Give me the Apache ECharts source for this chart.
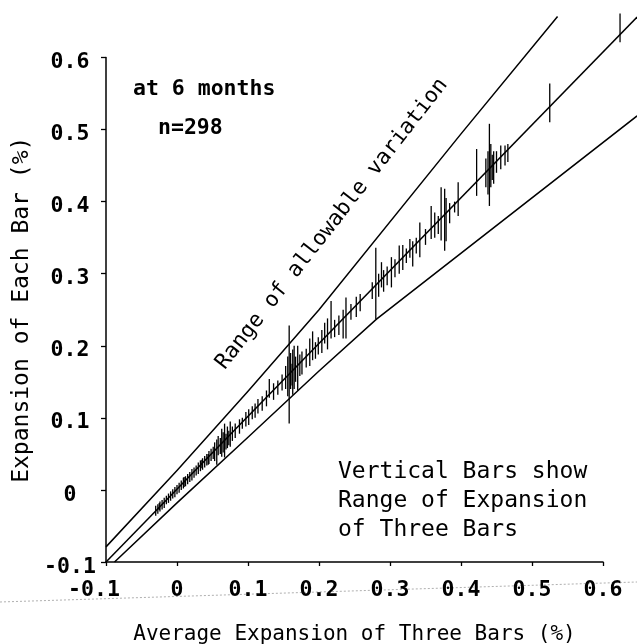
<!DOCTYPE html>
<html>
<head>
<meta charset="utf-8">
<script src="https://cdn.jsdelivr.net/npm/echarts@6/dist/echarts.min.js"></script>
<style>
html,body{margin:0;padding:0;background:#fff;}
#c{width:637px;height:644px;}
</style>
</head>
<body>
<div id="c"></div>
<script>
// ---- data ----
const xTicks = [-0.1, 0, 0.1, 0.2, 0.3, 0.4, 0.5, 0.6];
const yTicks = [-0.1, 0, 0.1, 0.2, 0.3, 0.4, 0.5, 0.6];

// boundary lines of allowable variation and centre line
const upperX = [-0.1, 0.0, 0.1, 0.2, 0.4, 0.536];
const upperY = [-0.079, 0.027, 0.137, 0.25, 0.494, 0.657];
const centerX = [-0.1, 0.648];
const centerY = [-0.1, 0.656];
const lowerX = [-0.088, 0.0, 0.1, 0.2, 0.281, 0.648];
const lowerY = [-0.1, -0.018, 0.073, 0.165, 0.237, 0.519];

// vertical bars: average expansion, min and max of the three bars
const barX = [
 -0.030,-0.027,-0.025,-0.024,-0.021,-0.018,-0.015,-0.012,-0.009,-0.006,-0.003,0.000,0.003,0.006,0.009,0.010,0.012,0.015,0.018,0.021,0.024,0.027,0.030,0.033,0.035,0.036,0.039,0.042,0.044,0.045,0.048,0.051,
 0.053,0.056,0.058,0.061,0.063,0.065,0.067,0.069,0.071,0.073,0.075,0.078,
 0.082,0.088,0.092,0.097,0.101,0.106,0.110,0.114,0.120,0.126,0.130,0.136,0.142,0.148,
 0.153,0.156,0.158,0.160,0.162,0.163,0.165,0.167,0.170,0.173,0.176,
 0.182,0.187,0.191,0.195,0.199,0.204,0.208,0.212,0.217,0.222,0.228,0.234,0.238,0.245,0.2525,0.258,
 0.275,0.280,0.284,0.288,0.291,0.296,0.302,0.307,0.313,0.318,0.323,0.328,0.332,0.337,0.342,0.350,0.358,0.363,0.368,0.372,0.377,0.379,0.384,0.391,0.396,
 0.422,0.435,0.438,0.440,0.442,0.444,0.446,0.450,0.456,0.462,0.466,
 0.525,0.624
];
const barLow = [
 -0.036,-0.033,-0.028,-0.030,-0.027,-0.025,-0.020,-0.018,-0.015,-0.012,-0.010,-0.006,-0.004,0.000,0.002,0.004,0.005,0.008,0.011,0.013,0.017,0.020,0.022,0.026,0.030,0.028,0.031,0.034,0.035,0.036,0.040,0.043,
 0.040,0.035,0.048,0.050,0.046,0.052,0.045,0.056,0.058,0.062,0.060,0.068,
 0.072,0.078,0.085,0.088,0.090,0.098,0.100,0.106,0.110,0.116,0.128,0.125,0.132,0.138,
 0.140,0.130,0.092,0.140,0.145,0.132,0.140,0.150,0.138,0.158,0.160,
 0.170,0.172,0.180,0.182,0.188,0.190,0.203,0.195,0.210,0.212,0.215,0.210,0.210,0.236,0.240,0.248,
 0.265,0.237,0.268,0.281,0.275,0.284,0.281,0.295,0.300,0.305,0.315,0.322,0.310,0.328,0.323,0.340,0.348,0.350,0.355,0.346,0.332,0.345,0.370,0.385,0.380,
 0.408,0.420,0.410,0.394,0.420,0.430,0.425,0.440,0.445,0.450,0.455,
 0.510,0.621
];
const barHigh = [
 -0.022,-0.020,-0.018,-0.016,-0.014,-0.011,-0.008,-0.005,-0.002,0.001,0.004,0.007,0.010,0.013,0.017,0.018,0.019,0.022,0.025,0.029,0.031,0.034,0.038,0.041,0.042,0.044,0.047,0.050,0.050,0.054,0.057,0.060,
 0.066,0.070,0.075,0.072,0.085,0.080,0.092,0.078,0.088,0.082,0.095,0.088,
 0.092,0.098,0.100,0.108,0.112,0.116,0.120,0.126,0.130,0.138,0.154,0.148,0.152,0.160,
 0.172,0.185,0.228,0.190,0.175,0.195,0.200,0.185,0.200,0.188,0.192,
 0.196,0.210,0.220,0.205,0.212,0.222,0.232,0.238,0.262,0.236,0.242,0.250,0.267,0.258,0.268,0.272,
 0.288,0.336,0.300,0.316,0.305,0.310,0.323,0.320,0.339,0.340,0.335,0.348,0.345,0.350,0.371,0.362,0.394,0.385,0.380,0.420,0.418,0.405,0.398,0.400,0.427,
 0.473,0.460,0.470,0.508,0.480,0.465,0.470,0.470,0.478,0.478,0.480,
 0.564,0.661
];

// ---- build chart ----
const FONT = '"DejaVu Sans Mono", monospace';
const bars = barX.map((x, i) => [x, barLow[i], barHigh[i]]);

function polySeries(xs, ys) {
  return {
    type: 'custom', clip: false, z: 3,
    data: xs.map((x, i) => [x, ys[i]]),
    renderItem: function (params, api) {
      if (params.dataIndex !== 0) return {type: 'group', children: []};
      const pts = xs.map((x, i) => api.coord([x, ys[i]]));
      return {
        type: 'polyline',
        shape: {points: pts},
        style: {stroke: '#000', lineWidth: 1.5, fill: null}
      };
    }
  };
}

function fmt(v) {
  const r = Math.round(v * 10) / 10;
  return r === 0 ? '0' : r.toFixed(1);
}

const chart = echarts.init(document.getElementById('c'), null, {renderer: 'canvas'});

chart.setOption({
  backgroundColor: '#fff',
  animation: false,
  grid: {left: 106, right: 34, top: 57.5, bottom: 82, containLabel: false, outerBoundsMode: 'none'},
  xAxis: {
    type: 'value', min: -0.1, max: 0.6, interval: 0.1,
    name: 'Average Expansion of Three Bars (%)',
    nameLocation: 'middle', nameGap: 62,
    nameTextStyle: {fontFamily: FONT, fontSize: 21, color: '#000'},
    axisLine: {show: true, onZero: false, lineStyle: {color: '#000', width: 1.5}},
    axisTick: {show: true, length: 4, lineStyle: {color: '#000', width: 1.3}},
    splitLine: {show: false},
    axisLabel: {
      margin: 17, color: '#000', fontFamily: FONT, fontSize: 21.5, fontWeight: 'bold',
      formatter: function (v) {
        const s = fmt(v);
        return s === '-0.1' ? '{n|-0.1}' : s;
      },
      rich: {n: {fontFamily: FONT, fontSize: 21.5, fontWeight: 'bold', color: '#000', padding: [0, 24, 0, 0]}}
    }
  },
  yAxis: {
    type: 'value', min: -0.1, max: 0.6, interval: 0.1,
    name: 'Expansion of Each Bar (%)',
    nameLocation: 'middle', nameGap: 61, nameRotate: 90,
    nameTextStyle: {fontFamily: FONT, fontSize: 23, color: '#000'},
    axisLine: {show: true, onZero: false, lineStyle: {color: '#000', width: 1.5}},
    axisTick: {show: true, length: 5, lineStyle: {color: '#000', width: 1.3}},
    splitLine: {show: false},
    axisLabel: {
      margin: 36, align: 'center', color: '#000',
      formatter: function (v) { return '{a|' + fmt(v) + '}'; },
      rich: {a: {fontFamily: FONT, fontSize: 21.5, fontWeight: 'bold', color: '#000', padding: [10, 0, 0, 0]}}
    }
  },
  series: [
    polySeries(upperX, upperY),
    polySeries(centerX, centerY),
    polySeries(lowerX, lowerY),
    {
      type: 'custom', clip: false, z: 4,
      data: bars,
      renderItem: function (params, api) {
        const p1 = api.coord([api.value(0), api.value(1)]);
        const p2 = api.coord([api.value(0), api.value(2)]);
        return {
          type: 'line',
          shape: {x1: p1[0], y1: p1[1], x2: p2[0], y2: p2[1]},
          style: {stroke: '#000', lineWidth: 1.3}
        };
      }
    }
  ],
  graphic: [
    {type: 'line', shape: {x1: 0, y1: 602, x2: 637, y2: 582}, style: {stroke: '#b0b0b0', lineWidth: 1, lineDash: [2, 2]}, z: 0, silent: true},
    {type: 'text', x: 133, y: 89, style: {text: 'at 6 months', font: 'bold 21.5px "DejaVu Sans Mono", monospace', fill: '#000', align: 'left', verticalAlign: 'middle'}},
    {type: 'text', x: 158, y: 128, style: {text: 'n=298', font: 'bold 21.5px "DejaVu Sans Mono", monospace', fill: '#000', align: 'left', verticalAlign: 'middle'}},
    {type: 'text', x: 332, y: 224, rotation: 52 * Math.PI / 180, style: {text: 'Range of allowable variation', font: '21.5px "DejaVu Sans Mono", monospace', fill: '#000', align: 'center', verticalAlign: 'middle'}},
    {type: 'text', x: 338, y: 472, style: {text: 'Vertical Bars show', font: '23px "DejaVu Sans Mono", monospace', fill: '#000', align: 'left', verticalAlign: 'middle'}},
    {type: 'text', x: 338, y: 501, style: {text: 'Range of Expansion', font: '23px "DejaVu Sans Mono", monospace', fill: '#000', align: 'left', verticalAlign: 'middle'}},
    {type: 'text', x: 338, y: 530, style: {text: 'of Three Bars', font: '23px "DejaVu Sans Mono", monospace', fill: '#000', align: 'left', verticalAlign: 'middle'}}
  ]
});
</script>
</body>
</html>
